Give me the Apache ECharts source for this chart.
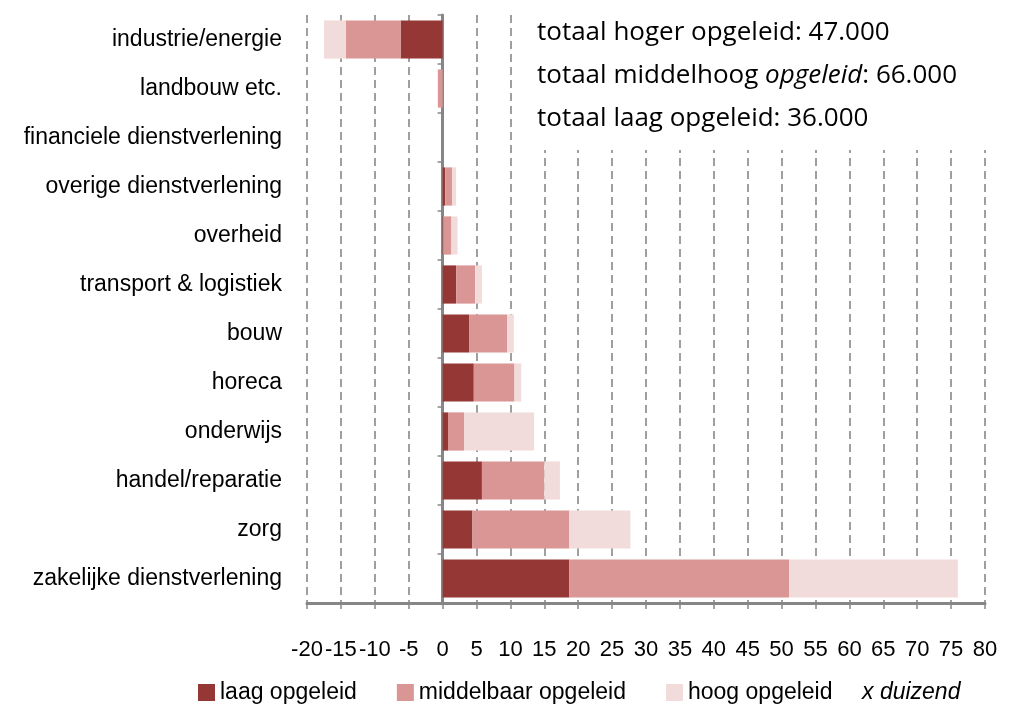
<!DOCTYPE html>
<html>
<head>
<meta charset="utf-8">
<script src="https://cdn.jsdelivr.net/npm/echarts@6/dist/echarts.min.js"></script>
<style>
html, body { margin: 0; padding: 0; background: #fff; }
#chart { width: 1012px; height: 709px; }
</style>
</head>
<body>
<div id="chart"></div>
<script>
var sectoren = ['industrie/energie', 'landbouw etc.', 'financiele dienstverlening',
	'overige dienstverlening', 'overheid', 'transport & logistiek', 'bouw', 'horeca',
	'onderwijs', 'handel/reparatie', 'zorg', 'zakelijke dienstverlening'];
var laag = [-6.2, 0, 0, 0.4, 0.1, 2.0, 3.9, 4.6, 0.8, 5.8, 4.4, 18.7];
var middelbaar = [-8.1, -0.7, 0, 1.0, 1.2, 2.8, 5.6, 6.0, 2.4, 9.2, 14.3, 32.4];
var hoog = [-3.2, 0, 0, 0.6, 0.9, 1.0, 1.0, 1.0, 10.3, 2.3, 9.0, 24.9];
var reeksNamen = ['laag opgeleid', 'middelbaar opgeleid', 'hoog opgeleid'];
var kleuren = ['#953735', '#d99694', '#f2dcdb'];

var chart = echarts.init(document.getElementById('chart'));

var font = '"Liberation Sans", Arial, sans-serif';
var tekstFont = '"Open Sans", "Noto Sans", sans-serif';

function reeks(i, data) {
	return {
		name : reeksNamen[i],
		type : 'bar',
		stack : 'totaal',
		yAxisIndex : 0,
		barCategoryGap : '22%',
		itemStyle : { color : kleuren[i] },
		data : data
	};
}

var option = {
	animation : false,
	color : kleuren,
	grid : { left : 307, right : 27, top : 15, bottom : 106 },
	legend : {
		left : 193,
		top : 676,
		itemWidth : 17,
		itemHeight : 17,
		itemGap : 40,
		icon : 'rect',
		textStyle : { fontFamily : font, fontSize : 23, color : '#000' },
		data : reeksNamen
	},
	xAxis : {
		type : 'value',
		min : -20,
		max : 80,
		interval : 5,
		axisLine : { show : true, onZero : false, lineStyle : { color : '#868686', width : 3 } },
		axisTick : { show : true, length : 6, lineStyle : { color : '#868686', width : 1.5 } },
		axisLabel : { fontFamily : font, fontSize : 22, color : '#000', margin : 36 },
		splitLine : { show : true, lineStyle : { color : '#808080', width : 1.5, type : [8, 5] } }
	},
	yAxis : [ {
		type : 'category',
		data : sectoren,
		inverse : true,
		axisLine : { show : false, onZero : false },
		axisTick : { show : false },
		axisLabel : { fontFamily : font, fontSize : 23, color : '#000', margin : 25 }
	}, {
		type : 'category',
		data : sectoren,
		inverse : true,
		position : 'left',
		axisLine : { show : true, onZero : true, lineStyle : { color : '#868686', width : 3 } },
		axisTick : { show : true, length : 5, lineStyle : { color : '#868686', width : 1.5 } },
		axisLabel : { show : false },
		splitLine : { show : false }
	} ],
	graphic : [ {
		// wit tekstvak over de rasterlijnen
		type : 'rect',
		z : 100,
		shape : { x : 521, y : 8, width : 480, height : 142 },
		style : { fill : '#fff' }
	}, {
		type : 'text',
		z : 101,
		left : 537,
		top : 11,
		style : {
			text : '{a|totaal hoger opgeleid: 47.000}\n{a|totaal middelhoog }{b|opgeleid}{a|: 66.000}\n{a|totaal laag opgeleid: 36.000}',
			lineHeight : 43,
			rich : {
				a : { fontFamily : tekstFont, fontSize : 26, fill : '#000', lineHeight : 43 },
				b : { fontFamily : tekstFont, fontSize : 26, fontStyle : 'italic', fill : '#000', lineHeight : 43 }
			}
		}
	}, {
		type : 'text',
		left : 862,
		top : 681,
		style : {
			text : 'x duizend',
			fontFamily : font,
			fontSize : 23,
			fontStyle : 'italic',
			fill : '#000'
		}
	} ],
	series : [ reeks(0, laag), reeks(1, middelbaar), reeks(2, hoog) ]
};
chart.setOption(option);
</script>
</body>
</html>
